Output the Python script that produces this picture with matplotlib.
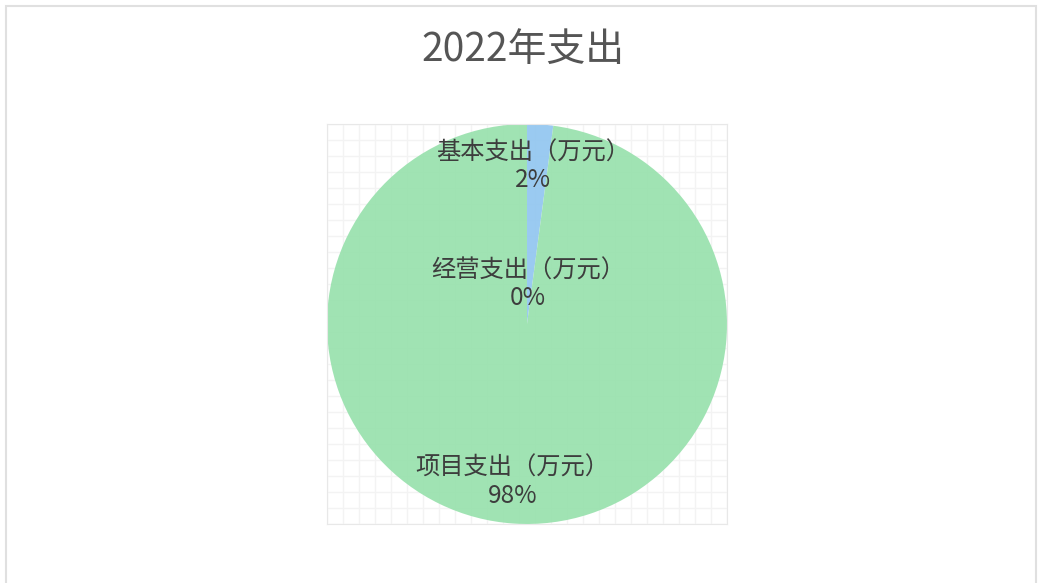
import numpy as np
import matplotlib.pyplot as plt
from matplotlib.patches import Rectangle

plt.rcParams['font.family'] = ['Noto Sans CJK SC', 'DejaVu Sans']

title = '2022年支出'
labels = ['基本支出（万元）', '经营支出（万元）', '项目支出（万元）']
values = [2.1, 0.0, 97.9]
colors = ['#92c6f0', '#f5c98f', '#98e1ad']
label_r = [0.79, 0.2, 0.79]

fig = plt.figure(figsize=(10.38, 5.83), dpi=100)
fig.patches.append(Rectangle((6/1038, -0.01), 1030/1038, 1 - 6/583 + 0.01,
                             transform=fig.transFigure, fill=False,
                             edgecolor='#e0e0e0', linewidth=1.5))
fig.text(523/1038, 1 - 50/583, title, ha='center', va='center',
         fontsize=28, color='#555555')

ax = fig.add_axes([327/1038, 59/583, 400/1038, 400/583])

wedges, _ = ax.pie(values, colors=colors, startangle=90, counterclock=False,
                   radius=1, wedgeprops=dict(alpha=0.92, linewidth=0))
ax.set_xlim(-1, 1)
ax.set_ylim(-1, 1)
ax.set_aspect('equal')
ax.set_frame_on(True)
ticks = np.linspace(-1, 1, 26)
ax.set_xticks(ticks)
ax.set_yticks(ticks)
ax.tick_params(length=0, labelbottom=False, labelleft=False)
ax.grid(True, color='#f3f3f3', linewidth=1)
ax.set_axisbelow(True)
for s in ax.spines.values():
    s.set_color('#e8e8e8')

total = sum(values)
start = 90.0
for lab, v, r in zip(labels, values, label_r):
    sweep = 360.0 * v / total
    mid = np.deg2rad(start - sweep / 2)
    start -= sweep
    x, y = r * np.cos(mid), r * np.sin(mid)
    ax.text(x - 0.02, y, '%s\n%d%%' % (lab, round(100 * v / total)), ha='center',
            va='center', fontsize=17.5, color='#3d3d3d', linespacing=1.1)

fig.savefig('out.png', dpi=100)
